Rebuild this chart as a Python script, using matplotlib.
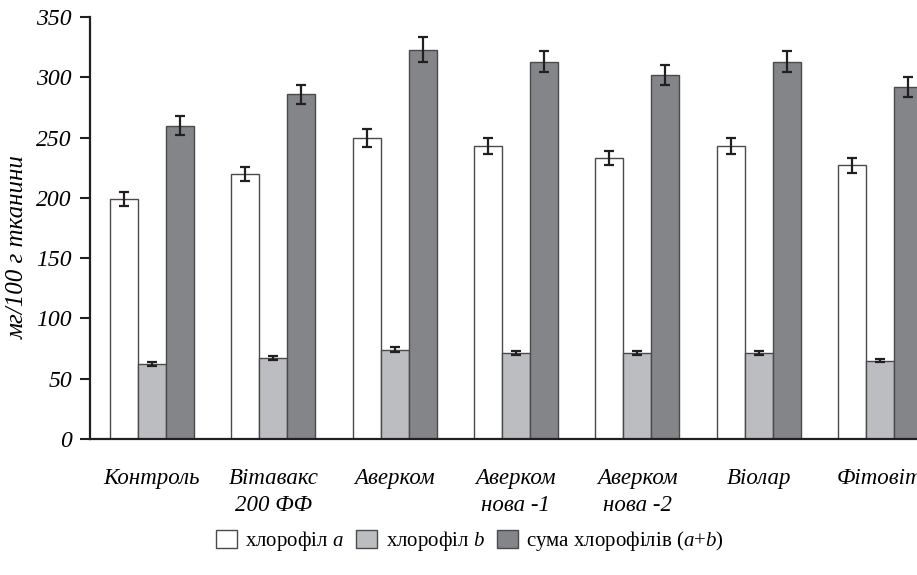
import numpy as np
import matplotlib as mpl
import matplotlib.pyplot as plt
from matplotlib.patches import Patch

plt.rcParams['font.family'] = ['Liberation Serif', 'DejaVu Serif']
plt.rcParams['mathtext.fontset'] = 'custom'
plt.rcParams['mathtext.rm'] = 'Liberation Serif'
plt.rcParams['mathtext.it'] = 'Liberation Serif:italic'

categories = ["Контроль", "Вітавакс\n200 ФФ", "Аверком", "Аверком\nнова -1",
              "Аверком\nнова -2", "Віолар", "Фітовіт"]
chl_a = [199, 220, 250, 243, 233, 243, 227]
chl_a_err = [6, 6, 7.5, 7, 6, 7, 6]
chl_b = [62, 67, 74, 71, 71, 71, 65]
chl_b_err = [1.5, 1.5, 2, 1.7, 1.7, 1.7, 1.5]
chl_sum = [260, 286, 323, 313, 302, 313, 292]
chl_sum_err = [7.5, 8, 10, 9, 8.5, 9, 8]
yticks = [0, 50, 100, 150, 200, 250, 300, 350]

ink = "#231f20"
edge = "#4a4a4c"
fig = plt.figure(figsize=(9.17, 5.75), dpi=100)
ax = fig.add_axes([90/917, 136/575, 0.954, 422/575])

x = np.arange(len(categories))
w = 0.231
err_kw = dict(ecolor=ink, elinewidth=1.6, capsize=3.3, capthick=1.6)
ax.bar(x - w, chl_a, w, yerr=chl_a_err, color="white", edgecolor=edge, lw=1.0, error_kw=err_kw)
ax.bar(x, chl_b, w, yerr=chl_b_err, color="#bcbdc0", edgecolor=edge, lw=1.0, error_kw=err_kw)
ax.bar(x + w, chl_sum, w, yerr=chl_sum_err, color="#848589", edgecolor=edge, lw=1.0, error_kw=err_kw)

ax.set_xlim(-0.511, 6.7)
ax.set_ylim(0, 350)
ax.set_yticks(yticks)
ax.set_yticklabels([str(t) for t in yticks], fontstyle="italic", fontsize=17)
ax.set_xticks(x)
ax.set_xticklabels(categories, fontstyle="italic", fontsize=16.5, linespacing=1.35, va="top")
ax.tick_params(axis="x", length=0, pad=21)
ax.tick_params(axis="y", length=7, width=1.5, color=ink, pad=6, direction="out")
for s in ["top", "right"]:
    ax.spines[s].set_visible(False)
for s in ["left", "bottom"]:
    ax.spines[s].set_color(ink)
    ax.spines[s].set_linewidth(1.6)
ax.set_ylabel("мг/100 г тканини", fontstyle="italic", fontsize=18)
ax.yaxis.set_label_coords(-0.0697, 0.455)

handles = [Patch(facecolor="white", edgecolor=edge, label="хлорофіл $a$"),
           Patch(facecolor="#bcbdc0", edgecolor=edge, label="хлорофіл $b$"),
           Patch(facecolor="#848589", edgecolor=edge, label="сума хлорофілів ($a$+$b$)")]
fig.legend(handles=handles, loc="center", bbox_to_anchor=(470/917, 1 - 541/575), ncol=3,
           frameon=False, fontsize=15, handlelength=1.0, handleheight=1.0,
           handletextpad=0.4, columnspacing=0.6)

fig.savefig("out.png", dpi=100)
